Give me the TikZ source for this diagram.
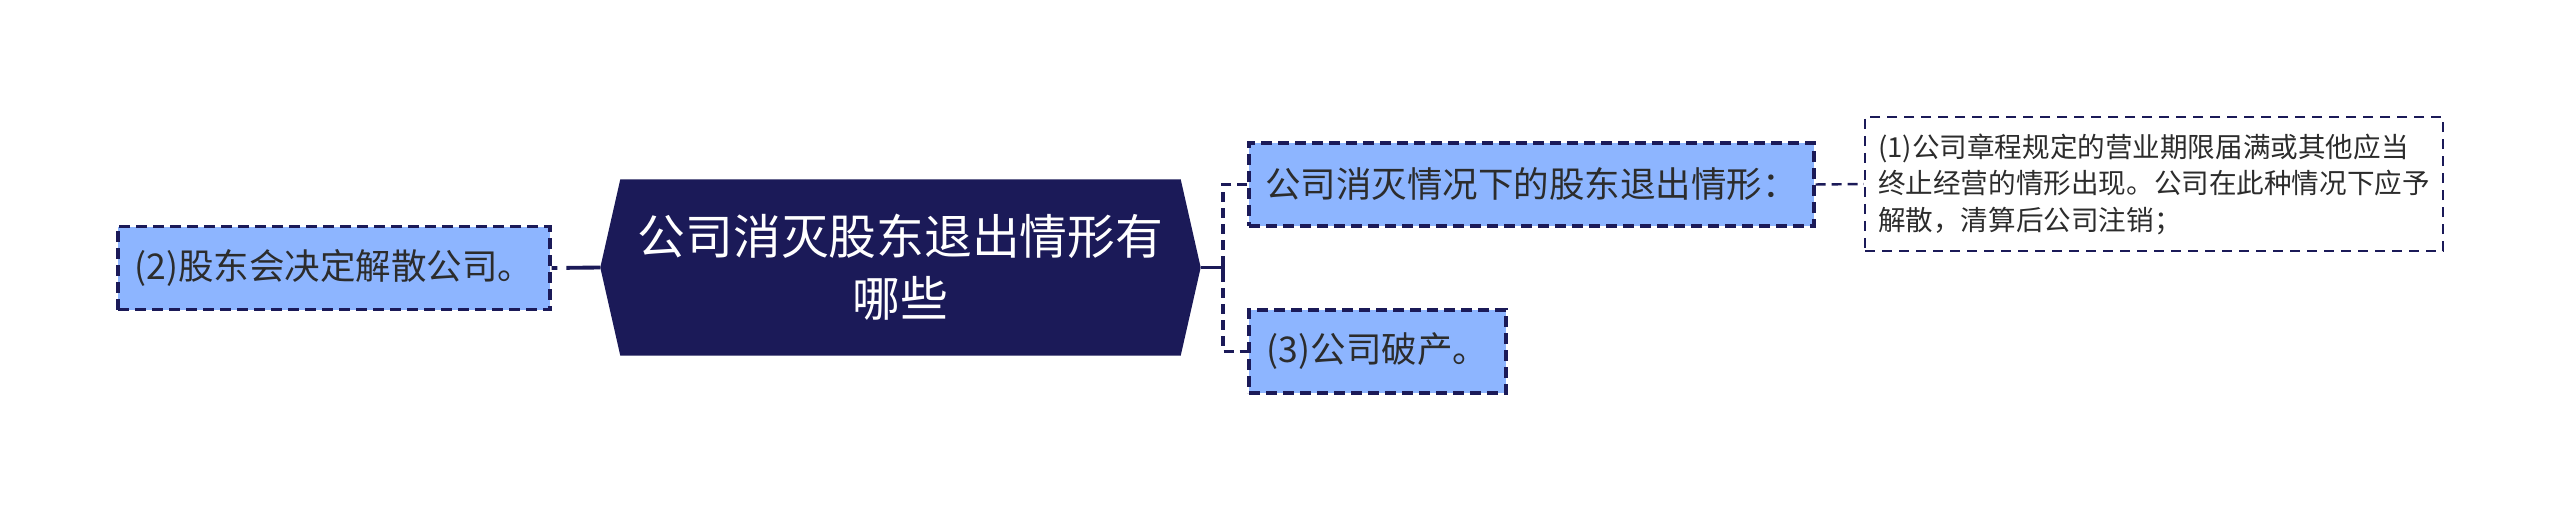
\documentclass[tikz,border=0pt]{standalone}
\usepackage{fontspec}
\setmainfont{Noto Sans CJK SC}
\usetikzlibrary{positioning,calc,backgrounds}
\definecolor{navy}{RGB}{27,26,88}
\definecolor{leafblue}{RGB}{141,181,255}
\definecolor{inkgray}{RGB}{44,44,44}
\tikzset{
  topic/.style={inner sep=0pt, minimum width=55.9mm, minimum height=17.5mm, text=white, align=center, font=\fontsize{13.6}{17.6}\selectfont},
  subtopic/.style={draw=navy, fill=leafblue, line width=0.9pt, dash pattern=on 1.1mm off 0.6mm, inner sep=0pt, minimum height=8.3mm, text=inkgray, font=\fontsize{10.1}{12}\selectfont},
  note/.style={draw=navy, line width=0.7pt, dash pattern=on 1mm off 0.7mm, inner sep=0pt, minimum width=57.8mm, minimum height=13.4mm, text=inkgray, align=left, font=\fontsize{7.85}{10.4}\selectfont},
  link/.style={navy, line width=1pt, dash pattern=on 1mm off 0.6mm},
  stem/.style={navy, line width=1.1pt}
}
\begin{document}
\begin{tikzpicture}[x=0.1mm, y=0.1mm]
  \useasboundingbox (0,0) rectangle (2560,510);
  % central topic
  \node[topic] (hub) at (900.5,242.5) {公司消灭股东退出情形有\\哪些};
  \coordinate (ltip) at ($(hub.west)+(-20,0)$);
  \coordinate (rtip) at ($(hub.east)+(20,0)$);
  \coordinate (fork) at (1223,242.5);
  \begin{scope}[on background layer]
    \fill[navy] (hub.north west) -- (hub.north east) -- (rtip) -- (hub.south east)
      -- (hub.south west) -- (ltip) -- cycle;
  \end{scope}
  % branches
  \node[subtopic, minimum width=43.2mm] (left) at (334,242) {(2)股东会决定解散公司。};
  \node[subtopic, minimum width=56.5mm] (sub1) at (1531.5,325.5) {公司消灭情况下的股东退出情形：};
  \node[subtopic, minimum width=25.7mm] (sub2) at (1377.5,158.5) {(3)公司破产。};
  \node[note] (note1) at (2154,326) {(1)公司章程规定的营业期限届满或其他应当\\终止经营的情形出现。公司在此种情况下应予\\解散，清算后公司注销；};
  % connectors
  \draw[stem, dash pattern=on 3.4mm off 0.9mm] (ltip) -- (left.east);
  \draw[stem] (rtip) -- (fork);
  \draw[stem] ($(fork)+(0,-9.5)$) -- ($(fork)+(0,9.5)$);
  \draw[link] (sub1.west) -| (fork) |- (sub2.west);
  \draw[link, line width=0.7pt] (sub1.east) -- (note1.west);
\end{tikzpicture}
\end{document}
